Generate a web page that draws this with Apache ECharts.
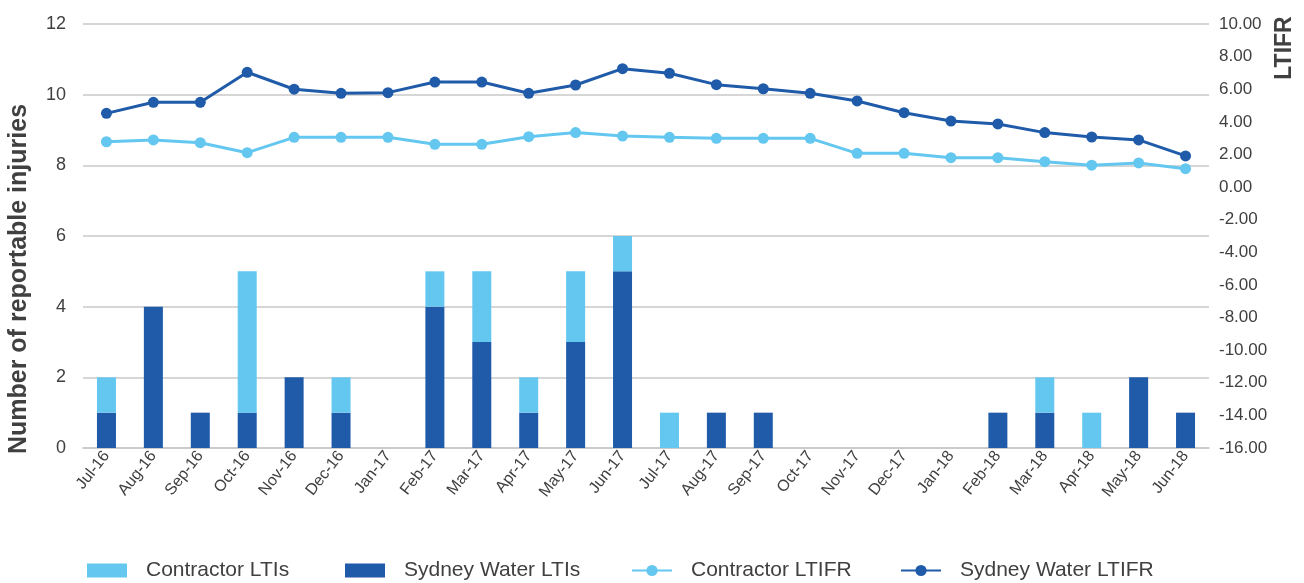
<!DOCTYPE html>
<html>
<head>
<meta charset="utf-8">
<script src="https://cdn.jsdelivr.net/npm/echarts@6/dist/echarts.min.js"></script>
<style>
  html, body { margin: 0; padding: 0; background: #ffffff; }
  #chart { width: 1304px; height: 583px; }
</style>
</head>
<body>
<div id="chart"></div>
<script>
// Monthly lost time injuries and LTIFR, Jul-16 to Jun-18
const months = ['Jul-16','Aug-16','Sep-16','Oct-16','Nov-16','Dec-16','Jan-17','Feb-17','Mar-17','Apr-17','May-17','Jun-17',
                'Jul-17','Aug-17','Sep-17','Oct-17','Nov-17','Dec-17','Jan-18','Feb-18','Mar-18','Apr-18','May-18','Jun-18'];
const sydneyWaterLTIs = [1,4,1,1,2,1,0,4,3,1,3,5, 0,1,1,0,0,0,0,1,1,0,2,1];
const contractorLTIs  = [1,0,0,4,0,1,0,1,2,1,2,1, 1,0,0,0,0,0,0,0,1,1,0,0];
const sydneyWaterLTIFR = [4.52,5.20,5.20,7.04,6.00,5.75,5.79,6.44,6.44,5.75,6.26,7.26,
                          6.98,6.28,6.03,5.75,5.28,4.56,4.05,3.87,3.34,3.07,2.89,1.91];
const contractorLTIFR  = [2.78,2.89,2.72,2.11,3.05,3.05,3.05,2.62,2.62,3.09,3.34,3.13,
                          3.05,2.99,2.99,2.99,2.07,2.07,1.80,1.80,1.56,1.34,1.48,1.13];
const legendNames = ['Contractor LTIs', 'Sydney Water LTIs', 'Contractor LTIFR', 'Sydney Water LTIFR'];

const LIGHT = '#63C7F0';
const DARK = '#1F5BA9';
const TEXT = '#404040';
const GRID = '#C8C8C8';
const FONT = 'Liberation Sans, Arial, sans-serif';

// one legend block per entry so each can sit at its own x position
const legendX = [82, 340, 626, 895];
const legends = legendNames.map((name, i) => ({
  top: 555,
  left: legendX[i],
  itemWidth: 40,
  itemHeight: 14,
  textStyle: { fontFamily: FONT, fontSize: 21, color: TEXT, padding: [0, 0, 0, 14] },
  data: [i < 2 ? { name, icon: 'rect' } : name]
}));

const chart = echarts.init(document.getElementById('chart'), null, { renderer: 'canvas' });
chart.setOption({
  animation: false,
  textStyle: { fontFamily: FONT },
  grid: { left: 83, right: 95, top: 24, bottom: 135, containLabel: false },
  legend: legends,
  xAxis: {
    type: 'category',
    data: months,
    axisLine: { show: true, lineStyle: { color: GRID, width: 1.5 } },
    axisTick: { show: false },
    axisLabel: { rotate: 52, fontSize: 16, color: TEXT, margin: 5, interval: 0 }
  },
  yAxis: [
    {
      type: 'value',
      min: 0, max: 12, interval: 2,
      axisLine: { show: false },
      axisTick: { show: false },
      splitLine: { lineStyle: { color: GRID, width: 1.5 } },
      axisLabel: { fontSize: 18, color: TEXT, margin: 17 }
    },
    {
      type: 'value',
      min: -16, max: 10, interval: 2,
      axisLine: { show: false },
      axisTick: { show: false },
      splitLine: { show: false },
      axisLabel: { fontSize: 17, color: TEXT, margin: 10, formatter: v => v.toFixed(2) }
    }
  ],
  graphic: [
    {
      type: 'text',
      x: 19, y: 279,
      rotation: Math.PI / 2,
      style: {
        text: 'Number of reportable injuries',
        font: 'bold 25px ' + FONT,
        fill: TEXT,
        align: 'center',
        verticalAlign: 'middle'
      }
    },
    {
      type: 'text',
      x: 1285, y: 48,
      rotation: Math.PI / 2,
      style: {
        text: 'LTIFR',
        font: 'bold 23px ' + FONT,
        fill: TEXT,
        align: 'center',
        verticalAlign: 'middle'
      }
    }
  ],
  series: [
    {
      name: 'Sydney Water LTIs',
      type: 'bar',
      stack: 'lti',
      barWidth: 19,
      itemStyle: { color: DARK },
      data: sydneyWaterLTIs,
      z: 2
    },
    {
      name: 'Contractor LTIs',
      type: 'bar',
      stack: 'lti',
      barWidth: 19,
      itemStyle: { color: LIGHT },
      data: contractorLTIs,
      z: 2
    },
    {
      name: 'Contractor LTIFR',
      type: 'line',
      yAxisIndex: 1,
      symbol: 'circle',
      symbolSize: 11,
      lineStyle: { color: LIGHT, width: 3 },
      itemStyle: { color: LIGHT },
      data: contractorLTIFR,
      z: 3
    },
    {
      name: 'Sydney Water LTIFR',
      type: 'line',
      yAxisIndex: 1,
      symbol: 'circle',
      symbolSize: 11,
      lineStyle: { color: DARK, width: 3 },
      itemStyle: { color: DARK },
      data: sydneyWaterLTIFR,
      z: 4
    }
  ]
});
</script>
</body>
</html>
